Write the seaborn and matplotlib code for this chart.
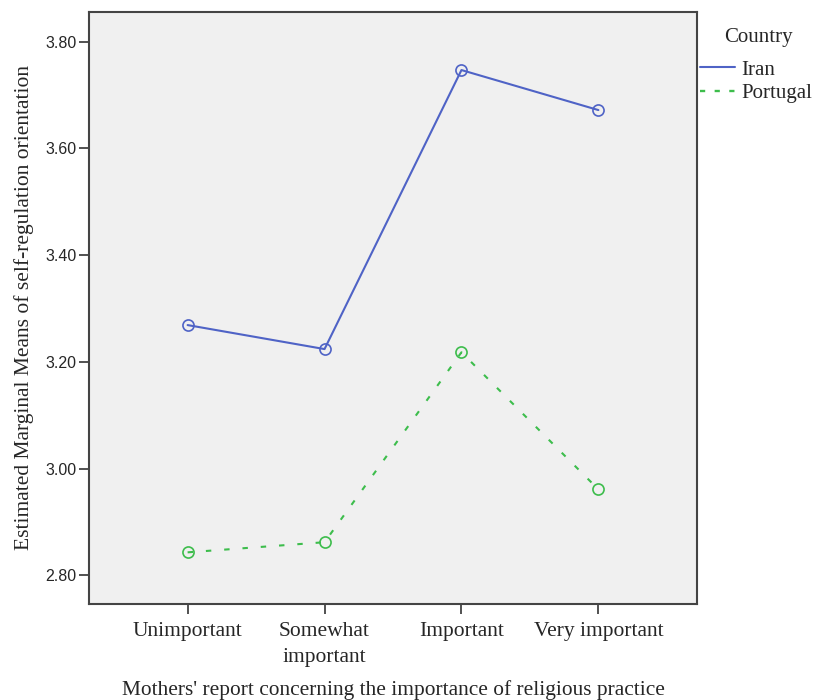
import matplotlib
matplotlib.use("Agg")
import matplotlib.pyplot as plt
import seaborn as sns
import pandas as pd
from matplotlib.lines import Line2D

categories = ["Unimportant", "Somewhat\nimportant", "Important", "Very important"]
iran = [3.269, 3.224, 3.747, 3.672]
portugal = [2.843, 2.862, 3.218, 2.961]
countries = ["Iran", "Portugal"]
yticks = [2.80, 3.00, 3.20, 3.40, 3.60, 3.80]

df = pd.DataFrame({
    "x": list(range(4)) * 2,
    "y": iran + portugal,
    "Country": ["Iran"] * 4 + ["Portugal"] * 4,
})

W, H = 819, 700
sns.set_theme(style="white")
fig = plt.figure(figsize=(W / 100, H / 100), dpi=100)
ax = fig.add_axes([0.1087, 0.137, 0.7423, 0.846])
ax.set_facecolor("#f0f0f0")

palette = {"Iran": "#4f63c6", "Portugal": "#3dbd4c"}
dash_styles = {"Iran": "", "Portugal": (2.6, 6.2)}
sns.lineplot(data=df, x="x", y="y", hue="Country", style="Country",
             palette=palette, dashes=dash_styles, markers={"Iran": "o", "Portugal": "o"},
             markersize=8, markerfacecolor="none", markeredgewidth=1.2,
             linewidth=1.5, ax=ax, legend=False)
for l in ax.lines:
    l.set_markerfacecolor("none")
    l.set_markeredgecolor(l.get_color())

ax.set_xlim(-0.72, 3.72)
ax.set_ylim(2.746, 3.856)
ax.set_xticks(range(4))
ax.set_xticklabels(categories, family="Liberation Serif", fontsize=15.5, linespacing=1.48)
ax.set_yticks(yticks)
ax.set_yticklabels([f"{v:.2f}" for v in yticks], family="Liberation Sans", fontsize=11.5)
ax.tick_params(axis="both", which="both", direction="out", length=7, width=1.2, color="#333333",
               bottom=True, left=True)
ax.tick_params(axis="x", pad=6)
ax.tick_params(axis="y", pad=2)
for s in ax.spines.values():
    s.set_color("#444444")
    s.set_linewidth(1.5)

ax.set_xlabel("Mothers' report concerning the importance of religious practice",
              family="Liberation Serif", fontsize=15.4, labelpad=9.5)
ax.set_ylabel("Estimated Marginal Means of self-regulation orientation",
              family="Liberation Serif", fontsize=15.5, labelpad=8)

# legend drawn in figure pixel coordinates
def fx(px):
    return px / W

def fy(py):
    return 1 - py / H

legend_dashes = {"Iran": (None, None), "Portugal": (2.2, 4.0)}
fig.text(fx(758), fy(42), "Country", ha="center", va="baseline",
         family="Liberation Serif", fontsize=15)
handle_y = [67, 91]
text_base = [75, 98]
for name, hy, ty in zip(countries, handle_y, text_base):
    fig.add_artist(Line2D([fx(700), fx(735)], [fy(hy), fy(hy)],
                          color=palette[name], lw=1.5 if name == "Iran" else 1.7,
                          dashes=legend_dashes[name],
                          transform=fig.transFigure))
    fig.text(fx(741), fy(ty), name, ha="left", va="baseline",
             family="Liberation Serif", fontsize=15)

fig.savefig("out.png", dpi=100, facecolor="white")
